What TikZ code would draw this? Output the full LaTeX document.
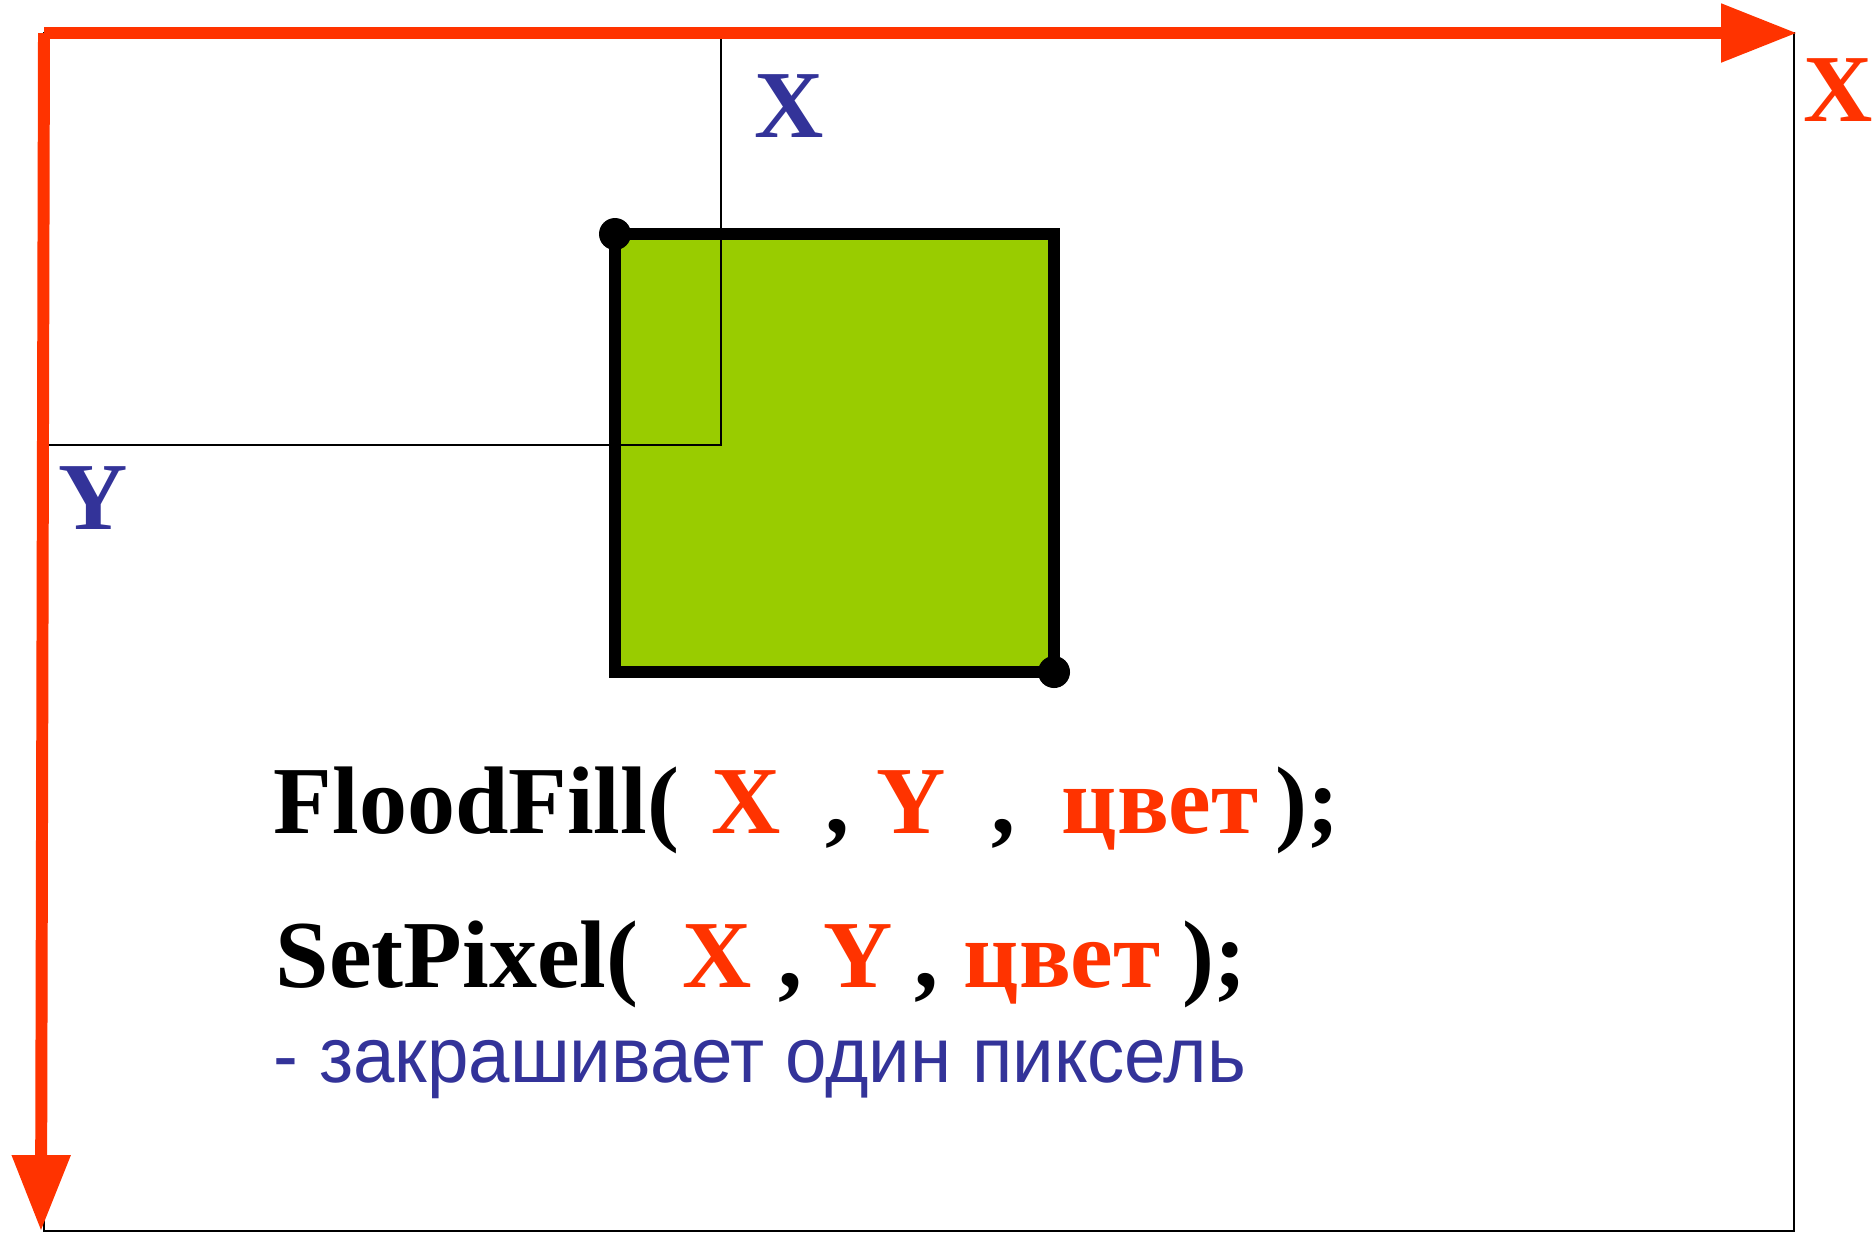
\documentclass[tikz,border=0pt]{standalone}
\usepackage{fontspec}
\setmainfont{Liberation Serif}
\setsansfont{Liberation Sans}
\usetikzlibrary{arrows.meta}
\definecolor{axisred}{HTML}{FF3300}
\definecolor{boxgreen}{HTML}{99CC00}
\definecolor{labelblue}{HTML}{333399}
\newcommand{\codefont}{\fontsize{27.3}{30}\selectfont\bfseries}
\newcommand{\notefont}{\fontsize{22.3}{26}\selectfont\sffamily}
\begin{document}
\begin{tikzpicture}[x=0.01cm,y=-0.01cm,
    axis/.style={axisred,line width=3.4pt,-{Triangle[length=21.6pt,width=15.9pt]}},
    guide/.style={black,line width=0.45pt},
    token/.style={anchor=base west,inner sep=0pt,font=\codefont},
    arg/.style={token,text=axisred},
    axislabel/.style={inner sep=0pt,font=\codefont}]
  \useasboundingbox (0,0) rectangle (1874,1232);
  % screen frame and axes
  \coordinate (O) at (44,33);
  \coordinate (Xend) at (1797,33);
  \coordinate (Yend) at (41,1231);
  \coordinate (P) at (721,445);
  \draw[line width=0.6pt] (O) rectangle (1794,1231);
  % filled region
  \draw[fill=boxgreen,line width=3.56pt] (615,234) rectangle (1054,672);
  \fill (615,234) circle (16);
  \fill (1054,672) circle (16);
  % point (X,Y)
  \draw[guide] (P |- O) -- (P) -- (P -| Yend);
  \draw[axis] (O) -- (Xend);
  \draw[axis] (O) -- (Yend);
  \node[axislabel,text=axisred] (xaxis) at (1838,90) {X};
  \node[axislabel,text=labelblue] (xlbl) at (789,106) {X};
  \node[axislabel,text=labelblue] (ylbl) at (93,498) {Y};
  % calls
  \node[token] (ff) at (273,833) {FloodFill(};
  \node[arg] (ffx) at (711,833) {X};
  \node[token] (ffc1) at (825,833) {,};
  \node[arg] (ffy) at (876,833) {Y};
  \node[token] (ffc2) at (991,833) {,};
  \node[arg] (ffcol) at (1061,833) {цвет};
  \node[token] (ffend) at (1275,833) {);};
  \node[token] (sp) at (275,987) {SetPixel(};
  \node[arg] (spx) at (682,987) {X};
  \node[token] (spc1) at (778,987) {,};
  \node[arg] (spy) at (823,987) {Y};
  \node[token] (spc2) at (914,987) {,};
  \node[arg] (spcol) at (963,987) {цвет};
  \node[token] (spend) at (1182,987) {);};
  \node[anchor=base west,inner sep=0pt,font=\notefont,text=labelblue,xscale=0.95] (note) at (273,1082) {- закрашивает один пиксель};
\end{tikzpicture}
\end{document}
